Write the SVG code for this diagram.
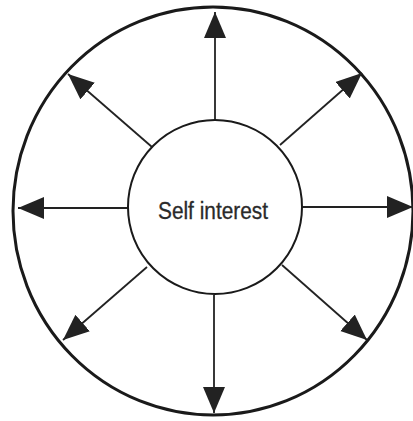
<svg xmlns="http://www.w3.org/2000/svg" width="413" height="421" viewBox="0 0 413 421">
<style>
.outer{fill:none;stroke:#1a1a1a;stroke-width:3}
.inner{fill:#fff;stroke:#1a1a1a;stroke-width:2}
.conn line{stroke:#222;stroke-width:1.8;marker-end:url(#ah)}
.lbl{font-family:"Liberation Sans",Arial,sans-serif;font-size:23px;fill:#2a2a2a;stroke:#2a2a2a;stroke-width:0.3;text-anchor:middle}
</style>
<defs>
<marker id="ah" markerUnits="userSpaceOnUse" markerWidth="27" markerHeight="23" refX="26" refY="11" orient="auto">
<path d="M26,11 L0,0 L0,22 z" fill="#222"/>
</marker>
</defs>
<rect width="413" height="421" fill="#fff"/>
<g id="outer-circle">
<ellipse class="outer" cx="213" cy="211" rx="200" ry="204"/>
</g>
<g id="connectors" class="conn">
<line x1="215" y1="120" x2="215" y2="12"/>
<line x1="214" y1="295" x2="214" y2="413"/>
<line x1="128" y1="208" x2="18" y2="208"/>
<line x1="302" y1="207" x2="413" y2="207"/>
<line x1="152" y1="147" x2="68" y2="74"/>
<line x1="280" y1="145" x2="362" y2="73"/>
<line x1="147" y1="267" x2="63" y2="340"/>
<line x1="282" y1="265" x2="367" y2="340"/>
</g>
<g id="self-interest">
<circle class="inner" cx="215" cy="207" r="87"/>
<text class="lbl" x="213" y="219" textLength="110" lengthAdjust="spacingAndGlyphs">Self interest</text>
</g>
</svg>
